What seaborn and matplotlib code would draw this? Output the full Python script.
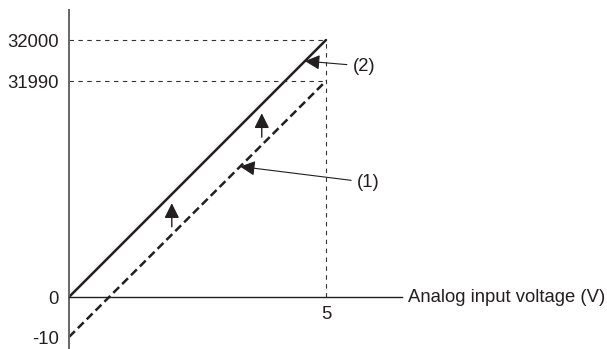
import numpy as np
import pandas as pd
import seaborn as sns
import matplotlib.pyplot as plt

# chart data
voltage = [0, 5]
digital_before = [-10, 31990]   # (1)
digital_after = [0, 32000]      # (2)
y_ticks = [-10, 0, 31990, 32000]
x_ticks = [5]
x_label = 'Analog input voltage (V)'
shift_arrow_x = [2.0, 3.75]
label_x = {'(1)': 3.33, '(2)': 4.59}

# schematic (non linear) y scale: value knots -> pixel height above the 0 line
knot_vals = [-30, -10, 0, 31990, 32000, 32100]
knot_px = [-120, -40, 0, 216, 257, 667]


def fwd(v):
    return np.interp(v, knot_vals, knot_px)


def inv(p):
    return np.interp(p, knot_px, knot_vals)


sns.set_style('white')
plt.rcParams['font.family'] = ['Liberation Sans', 'DejaVu Sans']
fs = 13.3
ink = '#231f20'

fig = plt.figure(figsize=(6.07, 3.49), dpi=100)
ax = fig.add_axes([69/607, 0, 333/607, 339/349])
ax.set_yscale('function', functions=(fwd, inv))
ax.set_xlim(0, 333/51.4)
ax.set_ylim(inv(-52), inv(287))

df = pd.DataFrame({
    'V': voltage + voltage,
    'value': digital_before + digital_after,
    'line': ['(1)'] * 2 + ['(2)'] * 2,
})
sns.lineplot(data=df, x='V', y='value', style='line',
             dashes={'(1)': (3.3, 1.7), '(2)': ''},
             color=ink, lw=1.8, legend=False, ax=ax)

# guide lines
guide = dict(color='#333333', lw=0.8, ls=(0, (4, 4)))
ax.plot([voltage[0], voltage[-1]], [digital_after[-1]] * 2, **guide)
ax.plot([voltage[0], voltage[-1]], [digital_before[-1]] * 2, **guide)
ax.plot([voltage[-1]] * 2, [0, digital_after[-1]], **guide)


def on_line(x, ys):
    # point on the drawn (straight in display) line
    return inv(np.interp(x, voltage, fwd(ys)))


head = '-|>,head_length=0.9,head_width=0.45'
for x in shift_arrow_x:
    ax.annotate('', xy=(x, on_line(x, digital_after)),
                xytext=(x, on_line(x, digital_before)),
                arrowprops=dict(arrowstyle=head, mutation_scale=10, color=ink,
                                lw=1.0, shrinkA=5.6, shrinkB=6.5))

offsets = {'(1)': (117, -16), '(2)': (48, -5)}
series = {'(1)': digital_before, '(2)': digital_after}
for name, x in label_x.items():
    ax.annotate(name, xy=(x, on_line(x, series[name])), xytext=offsets[name],
                textcoords='offset pixels', ha='left', va='center',
                fontsize=fs, color=ink,
                arrowprops=dict(arrowstyle=head, mutation_scale=10, color=ink,
                                lw=0.8, shrinkA=2, shrinkB=0))

# axes
for s in ['top', 'right']:
    ax.spines[s].set_visible(False)
ax.spines['bottom'].set_position(('data', 0))
ax.spines['bottom'].set_color(ink)
ax.spines['bottom'].set_linewidth(1.0)
ax.spines['left'].set_color('#666666')
ax.spines['left'].set_linewidth(1.4)

ax.set_yticks(y_ticks)
ax.set_yticklabels([str(v) for v in y_ticks])
ax.set_xticks(x_ticks)
ax.set_xticklabels([str(v) for v in x_ticks])
ax.minorticks_off()
ax.tick_params(axis='y', length=0, pad=7.2, labelsize=fs, labelcolor=ink)
ax.tick_params(axis='x', length=0, pad=6.5, labelsize=fs, labelcolor=ink)
ax.set_xlabel('')
ax.set_ylabel('')

ax.text(1 + 6/333, 0, x_label, transform=ax.get_yaxis_transform(),
        ha='left', va='center', fontsize=fs, color=ink, clip_on=False)

fig.savefig('out.png', dpi=100)
